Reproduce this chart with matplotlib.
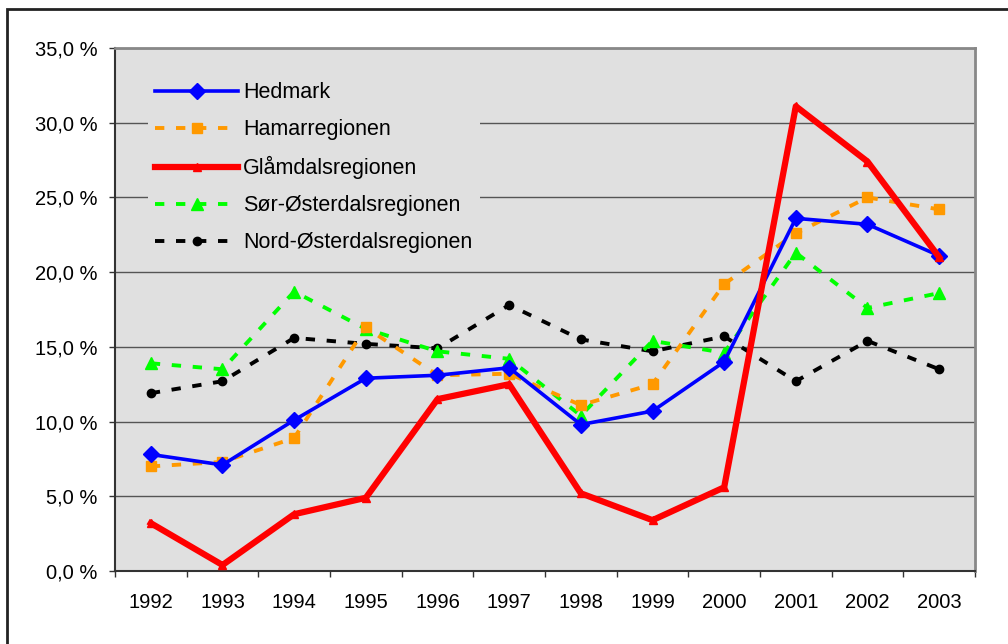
import numpy as np
import matplotlib.pyplot as plt
from matplotlib.patches import Rectangle
from matplotlib.ticker import FuncFormatter

plt.rcParams["font.family"] = ["Liberation Sans", "DejaVu Sans"]

years = ["1992", "1993", "1994", "1995", "1996", "1997",
         "1998", "1999", "2000", "2001", "2002", "2003"]

hedmark = [7.8, 7.1, 10.1, 12.9, 13.1, 13.6, 9.8, 10.7, 14.0, 23.6, 23.2, 21.1]
hamar = [7.0, 7.3, 8.9, 16.3, 13.1, 13.2, 11.1, 12.5, 19.2, 22.6, 25.0, 24.2]
glamdal = [3.2, 0.4, 3.8, 4.9, 11.5, 12.5, 5.2, 3.4, 5.6, 31.1, 27.4, 21.0]
sor_oster = [13.9, 13.5, 18.7, 16.2, 14.7, 14.2, 10.4, 15.4, 14.6, 21.3, 17.6, 18.6]
nord_oster = [11.9, 12.7, 15.6, 15.2, 14.9, 17.8, 15.5, 14.7, 15.7, 12.7, 15.4, 13.5]

W, H = 1008, 644
fig = plt.figure(figsize=(W / 100, H / 100), dpi=100)
fig.patch.set_facecolor("white")

# outer chart border (cut off at right and bottom like the original)
fig.patches.append(Rectangle((7 / W, -0.1), 1.2, (H - 9) / H + 0.1,
                             transform=fig.transFigure, fill=False,
                             edgecolor="#222222", lw=2.0))

ax = fig.add_axes([115 / W, 1 - 571 / H, 860 / W, 523 / H])
ax.set_facecolor("#e0e0e0")

x = np.arange(len(years))
dash = (0, (2.4, 3.0))

ax.plot(x, hedmark, color="#0000ff", lw=2.6, marker="D", ms=8,
        label="Hedmark", zorder=5)
ax.plot(x, hamar, color="#ff9900", lw=2.8, ls=dash, marker="s", ms=6.5,
        label="Hamarregionen", zorder=4)
ax.plot(x, glamdal, color="#ff0000", lw=4.5, marker="^", ms=6,
        label="Glåmdalsregionen", zorder=6)
ax.plot(x, sor_oster, color="#00ff00", lw=2.8, ls=dash, marker="^", ms=8,
        label="Sør-Østerdalsregionen", zorder=3)
ax.plot(x, nord_oster, color="#000000", lw=2.8, ls=dash, marker="o", ms=6,
        label="Nord-Østerdalsregionen", zorder=2)

ax.set_xlim(-0.5, len(years) - 0.5)
ax.set_ylim(0, 35)

ax.set_yticks(np.arange(0, 36, 5))
ax.yaxis.set_major_formatter(FuncFormatter(lambda v, p: f"{v:.1f}".replace(".", ",") + " %"))
ax.yaxis.grid(True, color="#555555", lw=1.0)
ax.set_axisbelow(True)

ax.set_xticks(np.arange(-0.5, len(years), 1))
ax.set_xticklabels([])
ax.set_xticks(x, minor=True)
ax.set_xticklabels(years, minor=True)
ax.tick_params(axis="x", which="major", direction="out", length=4.5, width=1, color="#333333")
ax.tick_params(axis="x", which="minor", length=0, pad=16, labelsize=14.5)
ax.tick_params(axis="y", direction="out", length=4.5, width=1, color="#333333",
               pad=8, labelsize=14.5)

for side in ["left", "bottom"]:
    ax.spines[side].set_color("#333333")
    ax.spines[side].set_linewidth(1.5)
for side in ["top", "right"]:
    ax.spines[side].set_color("#888888")
    ax.spines[side].set_linewidth(2)

leg = ax.legend(loc="upper left", bbox_to_anchor=(0.0384, 0.948), fontsize=15.5,
                frameon=True, facecolor="#e0e0e0", edgecolor="none", framealpha=1,
                handlelength=3.86, handletextpad=0.23, labelspacing=0.74,
                borderpad=0.33, borderaxespad=0, fancybox=False)

fig.savefig("out.png", dpi=100)
